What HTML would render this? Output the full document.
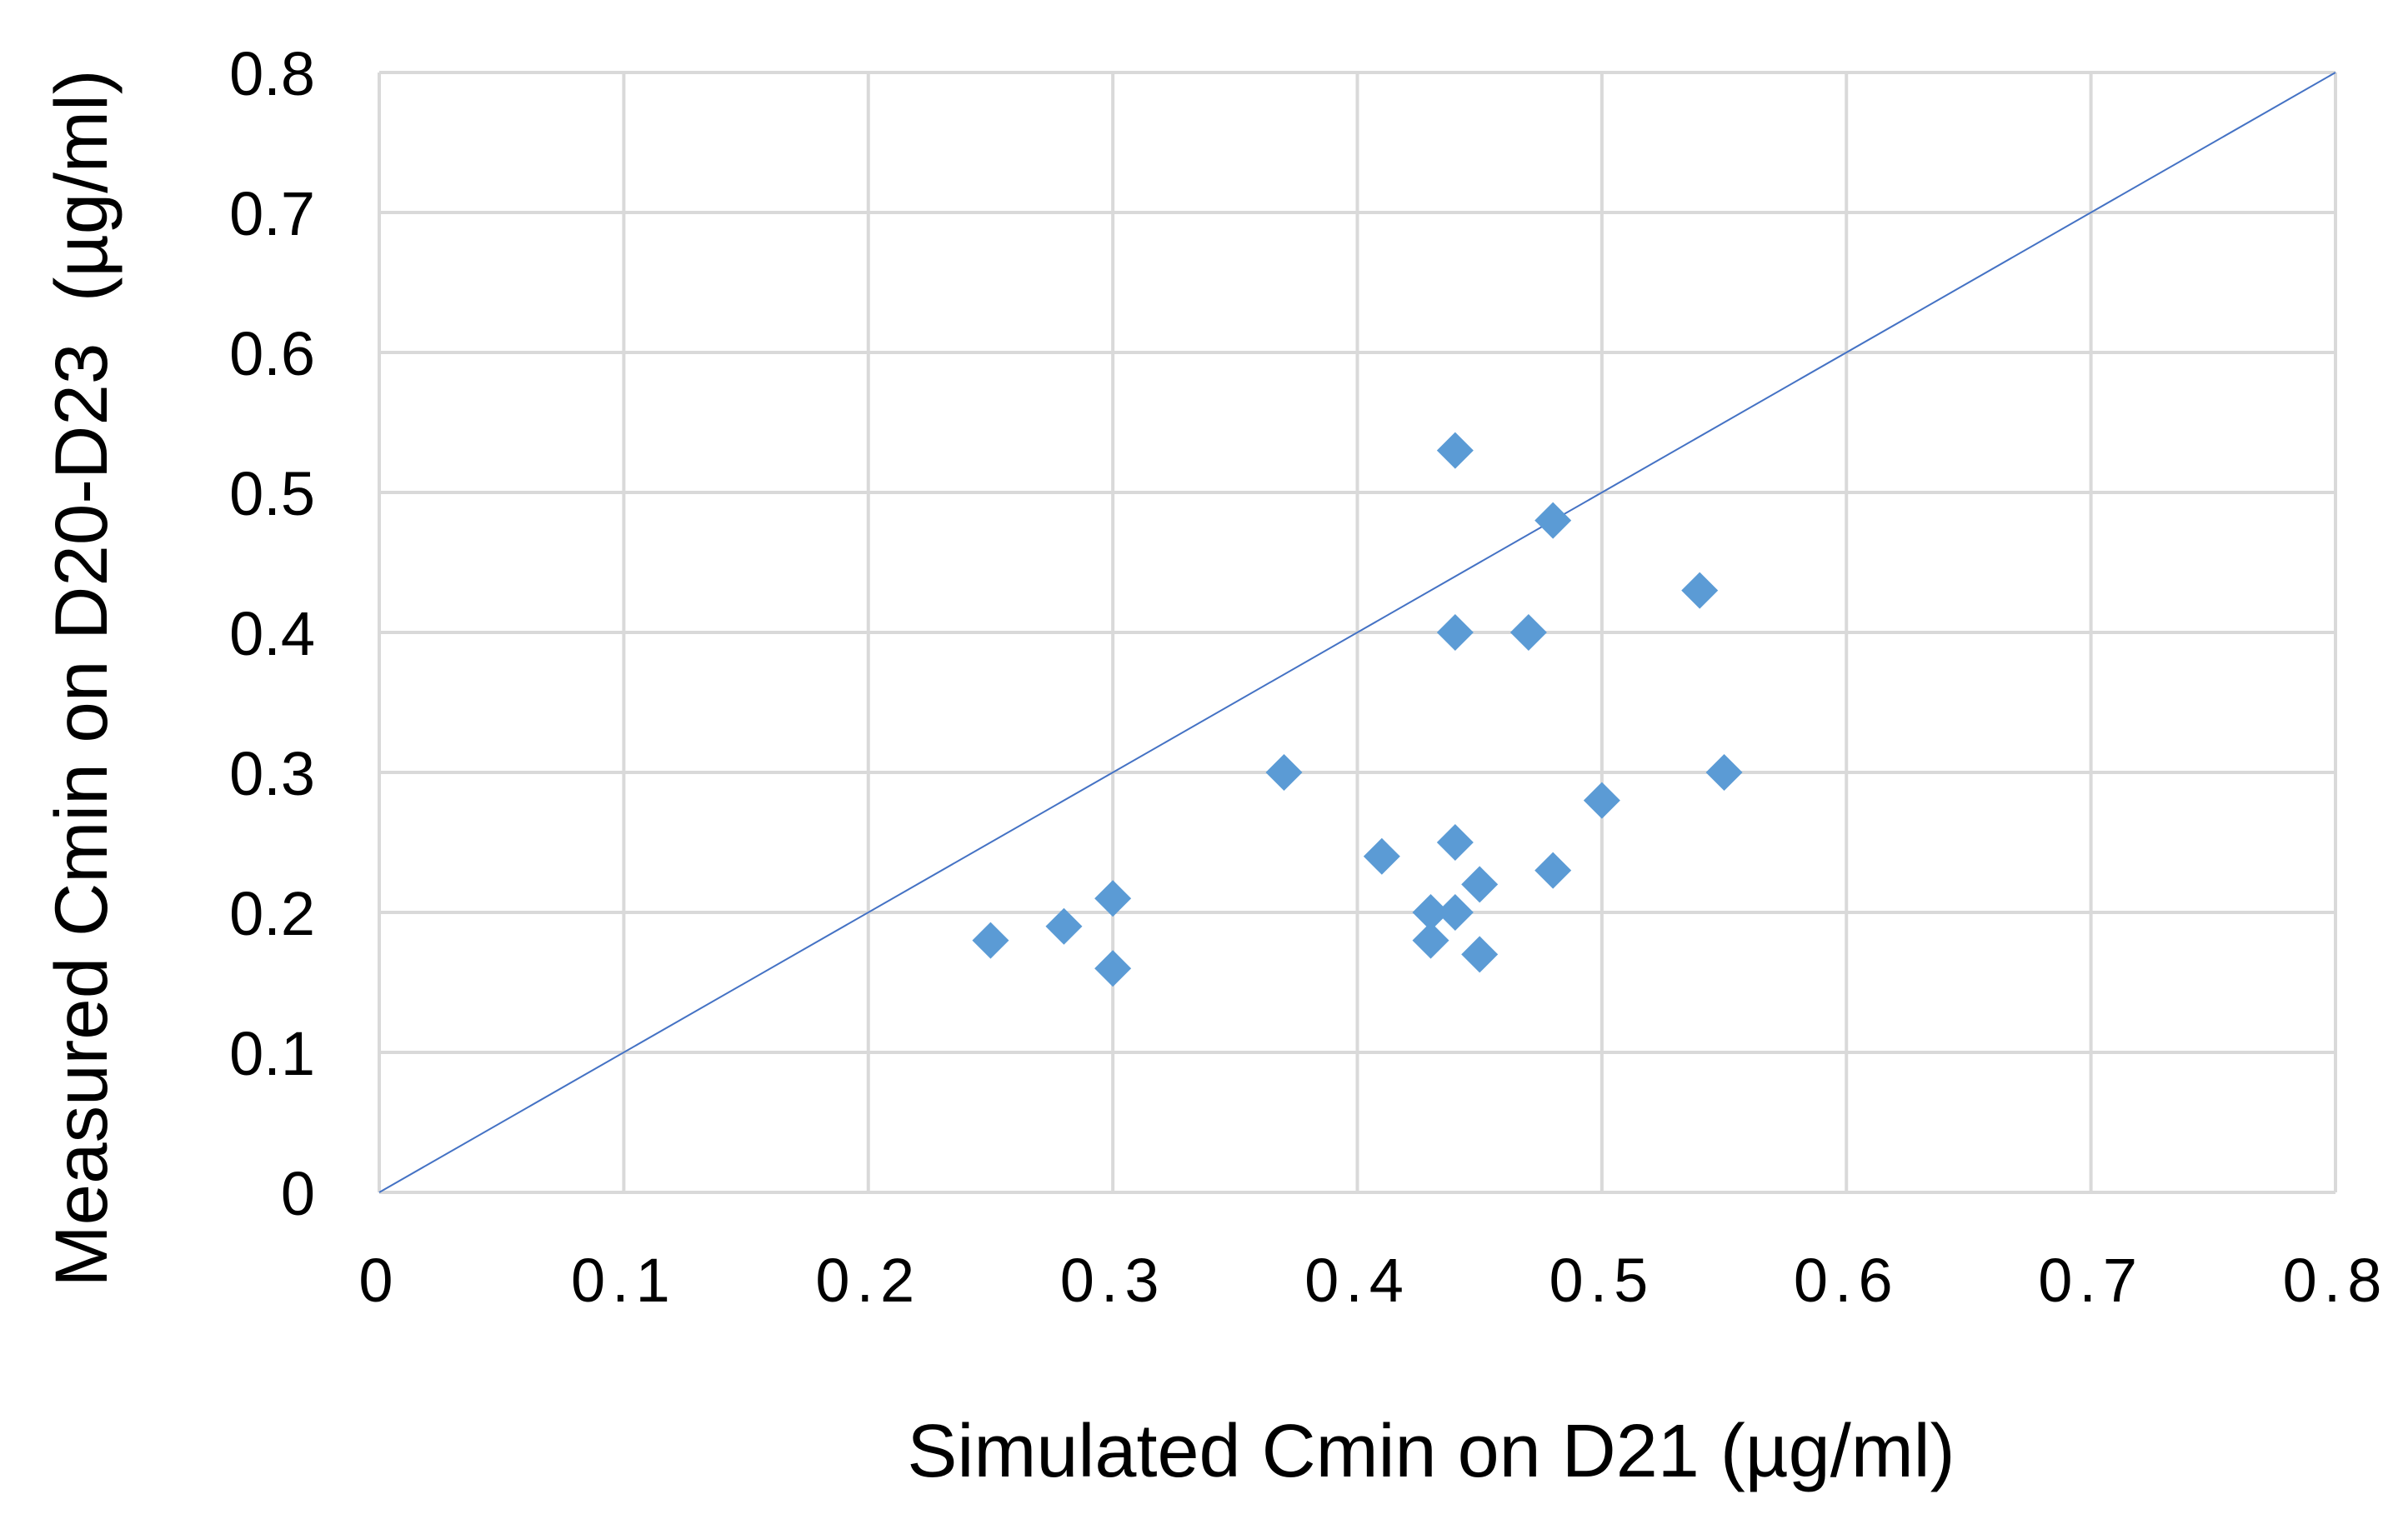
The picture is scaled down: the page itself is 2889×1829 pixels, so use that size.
<!DOCTYPE html>
<html><head><meta charset="utf-8"><style>
html,body{margin:0;padding:0;background:#fff}
svg{display:block}
text{font-family:"Liberation Sans",sans-serif;fill:#000}
</style></head><body>
<svg id="chart" width="2889" height="1829" viewBox="0 0 2889 1829" xmlns="http://www.w3.org/2000/svg">
<g id="grid"></g>
<g id="ref"></g>
<g id="pts"></g>
<g id="xt"></g>
<g id="yt"></g>
<text x="1717" y="1772" font-size="90" text-anchor="middle">Simulated Cmin on D21 (µg/ml)</text>
<text transform="translate(128,814) rotate(-90)" font-size="89" text-anchor="middle" xml:space="preserve">Measured Cmin on D20-D23  (µg/ml)</text>
</svg>
<script>
const xVals=[0.25,0.28,0.30,0.30,0.37,0.41,0.43,0.43,0.44,0.44,0.45,0.45,0.44,0.44,0.47,0.48,0.48,0.50,0.54,0.55];
const yVals=[0.18,0.19,0.21,0.16,0.30,0.24,0.20,0.18,0.20,0.25,0.22,0.17,0.40,0.53,0.40,0.48,0.23,0.28,0.43,0.30];
const xTicks=["0","0.1","0.2","0.3","0.4","0.5","0.6","0.7","0.8"];
const yTicks=["0","0.1","0.2","0.3","0.4","0.5","0.6","0.7","0.8"];
const L=455,R=2802,T=87,B=1431;
const sx=v=>L+(v/0.8)*(R-L), sy=v=>B-(v/0.8)*(B-T);
const NS="http://www.w3.org/2000/svg";
const mk=(t,a,p)=>{const e=document.createElementNS(NS,t);for(const k in a)e.setAttribute(k,a[k]);p.appendChild(e);return e;};
const g=document.getElementById('grid');
for(let i=0;i<=8;i++){
 const v=i*0.1;
 const l1=mk('line',{x1:sx(v),x2:sx(v),y1:T,y2:B,stroke:'#d9d9d9','stroke-width':4},g);
 
 
 const l2=mk('line',{x1:L,x2:R,y1:sy(v),y2:sy(v),stroke:'#d9d9d9','stroke-width':4},g);
 
 
}
const rl=mk('line',{x1:sx(0),y1:sy(0),x2:sx(0.8),y2:sy(0.8),stroke:'#4472c4','stroke-width':2},document.getElementById('ref'));


const pg=document.getElementById('pts');
xVals.forEach((x,i)=>{const cx=sx(x),cy=sy(yVals[i]),r=22;
 const p=mk('polygon',{points:`${cx},${cy-r} ${cx+r},${cy} ${cx},${cy+r} ${cx-r},${cy}`,fill:'#5b9bd5'},pg);
 
 
});
const xg=document.getElementById('xt');
xTicks.forEach((t,i)=>{const e=mk('text',{x:sx(i*0.1),y:1562,'font-size':74,'text-anchor':'middle','letter-spacing':'8'},xg);e.textContent=t;
 
 
});
const yg=document.getElementById('yt');
yTicks.forEach((t,i)=>{const e=mk('text',{x:378,y:sy(i*0.1)+27,'font-size':74,'text-anchor':'end'},yg);e.textContent=t;
 
 
});
</script>
</body></html>
